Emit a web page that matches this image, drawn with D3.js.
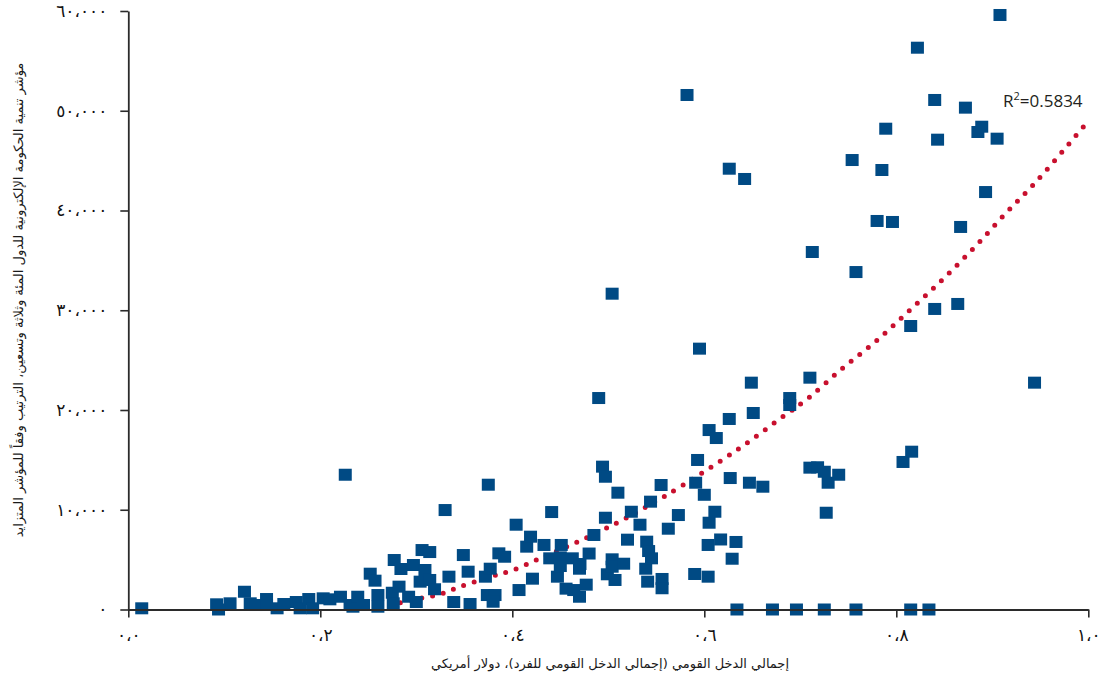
<!DOCTYPE html>
<html>
<head>
<meta charset="utf-8">
<script src="https://cdn.jsdelivr.net/npm/d3@7"></script>
<style>
  body { margin: 0; background: #fff; }
  svg { display: block; }
</style>
</head>
<body>
<svg id="chart" width="1112" height="679"></svg>
<script>
// E-Government Development Index (x) against GNI per capita in US$ (y), one square per country
const egovIndex = [
  0.014, 0.092, 0.106, 0.094, 0.121, 0.127, 0.133, 0.144, 0.144, 0.155,
  0.162, 0.175, 0.179, 0.188, 0.192, 0.203, 0.210, 0.221, 0.226, 0.231,
  0.234, 0.239, 0.245, 0.252, 0.257, 0.260, 0.260, 0.275, 0.276, 0.277,
  0.282, 0.284, 0.292, 0.297, 0.300, 0.304, 0.306, 0.314, 0.309, 0.314,
  0.319, 0.330, 0.334, 0.339, 0.349, 0.354, 0.356, 0.372, 0.375, 0.377,
  0.374, 0.382, 0.380, 0.386, 0.392, 0.404, 0.407, 0.415, 0.419, 0.421,
  0.433, 0.439, 0.441, 0.447, 0.450, 0.450, 0.451, 0.456, 0.4625, 0.464,
  0.470, 0.470, 0.4705, 0.477, 0.480, 0.485, 0.490, 0.494, 0.497, 0.497,
  0.499, 0.504, 0.504, 0.504, 0.507, 0.510, 0.516, 0.520, 0.524, 0.533,
  0.539, 0.540, 0.541, 0.542, 0.544, 0.545, 0.555, 0.556, 0.556, 0.5625,
  0.573, 0.582, 0.590, 0.591, 0.593, 0.595, 0.600, 0.604, 0.604, 0.605,
  0.605, 0.611, 0.6125, 0.617, 0.626, 0.626, 0.627, 0.629, 0.633, 0.634,
  0.642, 0.647, 0.649, 0.651, 0.661, 0.671, 0.689, 0.689, 0.696, 0.710,
  0.710, 0.7125, 0.718, 0.725, 0.725, 0.727, 0.729, 0.740, 0.754, 0.758,
  0.758, 0.780, 0.785, 0.789, 0.796, 0.807, 0.815, 0.815, 0.816, 0.822,
  0.834, 0.840, 0.840, 0.843, 0.864, 0.867, 0.872, 0.885, 0.889, 0.893,
  0.905, 0.908, 0.944
];
const gniPerCapita = [
  120, 520, 620, 0, 1780, 620, 450, 1050, 450, 120,
  550, 750, 120, 1050, 120, 1120, 1020, 1280, 13510, 450,
  280, 1280, 450, 3590, 2890, 1450, 280, 1680, 620, 4960,
  2290, 4060, 1280, 4460, 750, 2790, 5960, 5760, 3960, 2960,
  2030, 9970, 3290, 750, 5460, 3790, 550, 3290, 12510, 4090,
  1450, 1450, 780, 5630, 5290, 8500, 1950, 6300, 7300, 3090,
  6470, 5130, 9770, 3290, 5230, 4360, 6470, 2090, 5130, 1950,
  4090, 1280, 4560, 2490, 5610, 7470, 21200, 14320, 13310, 9200,
  3530, 5030, 4290, 31660, 2960, 11710, 4590, 7000, 9800, 8500,
  4090, 6800, 2790, 5860, 10810, 5130, 12480, 3060, 2130, 8100,
  9470, 51580, 3560, 12710, 14990, 26150, 11500, 6470, 3290, 17990,
  8700, 9800, 17190, 7020, 44190, 19100, 13180, 5090, 6770, 0,
  43160, 12710, 22740, 19700, 12310, 0, 21200, 20500, 0, 23240,
  14220, 35840, 14260, 13810, 0, 9700, 12710, 13510, 45060, 33830,
  0, 38950, 44060, 48200, 38850, 14790, 28420, 0, 15820, 56320,
  0, 51080, 30130, 47100, 30630, 38350, 50310, 47870, 48400, 41850,
  47200, 59600, 22740
];

// Polynomial trend line, sampled along its course
const trendX = [0.238, 0.248, 0.280, 0.304, 0.325, 0.346, 0.377, 0.399, 0.429, 0.471,
                0.510, 0.540, 0.578, 0.634, 0.681, 0.708, 0.743, 0.779, 0.814, 0.849,
                0.882, 0.914, 0.947, 1.000];
const trendY = [0, 120, 620, 1120, 1550, 2290, 3290, 3890, 5130, 6900,
                8740, 10310, 12480, 15990, 19270, 21170, 24110, 26920, 30000, 33160,
                36370, 39720, 43030, 48970];
const r2Value = "0.5834";

const xTicks = [0, 0.2, 0.4, 0.6, 0.8, 1.0];
const xTickLabels = ["٠،٠", "٠،٢", "٠،٤", "٠،٦", "٠،٨", "١،٠"];
const yTicks = [0, 10000, 20000, 30000, 40000, 50000, 60000];
const yTickLabels = ["٠", "١٠،٠٠٠", "٢٠،٠٠٠", "٣٠،٠٠٠", "٤٠،٠٠٠", "٥٠،٠٠٠", "٦٠،٠٠٠"];

const xTitle = "إجمالي الدخل القومي (إجمالي الدخل القومي للفرد)، دولار أمريكي";
const yTitle = "مؤشر تنمية الحكومة الإلكترونية للدول المئة وثلاثة وتسعين، الترتيب وفقاً للمؤشر المتزايد";

const svg = d3.select("#chart");
const x = d3.scaleLinear().domain([0, 1]).range([128.3, 1088.3]);
const y = d3.scaleLinear().domain([0, 60000]).range([609.5, 11]);

const axisColor = "#2b2b2b";
const arabicFont = "'DejaVu Sans', sans-serif";

// Trend line (dotted)
const trendPts = trendX.map((v, i) => [v, trendY[i]]);
svg.append("path")
  .datum(trendPts)
  .attr("fill", "none")
  .attr("stroke", "#c8102e")
  .attr("stroke-width", 5)
  .attr("stroke-linecap", "round")
  .attr("stroke-dasharray", "0 11")
  .attr("d", d3.line().x(d => x(d[0])).y(d => y(d[1])).curve(d3.curveCatmullRom));

// Country squares
const pts = egovIndex.map((v, i) => [v, gniPerCapita[i]]);
const sqW = 13, sqH = 12;
svg.append("g").selectAll("rect")
  .data(pts)
  .join("rect")
  .attr("x", d => x(d[0]) - sqW / 2)
  .attr("y", d => y(d[1]) - sqH / 2)
  .attr("width", sqW)
  .attr("height", sqH)
  .attr("fill", "#004a84");

// Axes
const xAxis = svg.append("g")
  .attr("transform", `translate(0,${y(0)})`)
  .call(d3.axisBottom(x).tickValues(xTicks)
    .tickFormat((d, i) => xTickLabels[i])
    .tickSize(8).tickSizeOuter(0).tickPadding(11));
const yAxis = svg.append("g")
  .attr("transform", `translate(${x(0)},0)`)
  .call(d3.axisLeft(y).tickValues(yTicks)
    .tickFormat((d, i) => yTickLabels[i])
    .tickSize(8).tickSizeOuter(0).tickPadding(13));

[xAxis, yAxis].forEach(g => {
  g.select(".domain").attr("stroke", axisColor).attr("stroke-width", 1.8);
  g.selectAll(".tick line").attr("stroke", axisColor).attr("stroke-width", 1.6);
  g.selectAll(".tick text")
    .attr("fill", "#111")
    .style("font-family", arabicFont)
    .style("font-size", "17px")
    .style("letter-spacing", "2px");
});

// Axis titles
svg.append("text")
  .attr("x", 610).attr("y", 668)
  .attr("text-anchor", "middle")
  .attr("direction", "rtl")
  .attr("fill", "#1a1a1a")
  .style("font-family", arabicFont)
  .style("font-size", "13px")
  .text(xTitle);

svg.append("text")
  .attr("transform", "translate(23,300) rotate(-90)")
  .attr("text-anchor", "middle")
  .attr("direction", "rtl")
  .attr("fill", "#1a1a1a")
  .style("font-family", arabicFont)
  .style("font-size", "13px")
  .text(yTitle);

// R² annotation
const r2 = svg.append("text")
  .attr("x", 1003).attr("y", 107)
  .attr("fill", "#231f20")
  .style("font-family", "'Open Sans', sans-serif")
  .style("font-size", "17px");
r2.append("tspan").text("R");
r2.append("tspan").attr("dy", -7).style("font-size", "11px").text("2");
r2.append("tspan").attr("dy", 7).text("=" + r2Value);
</script>
</body>
</html>
